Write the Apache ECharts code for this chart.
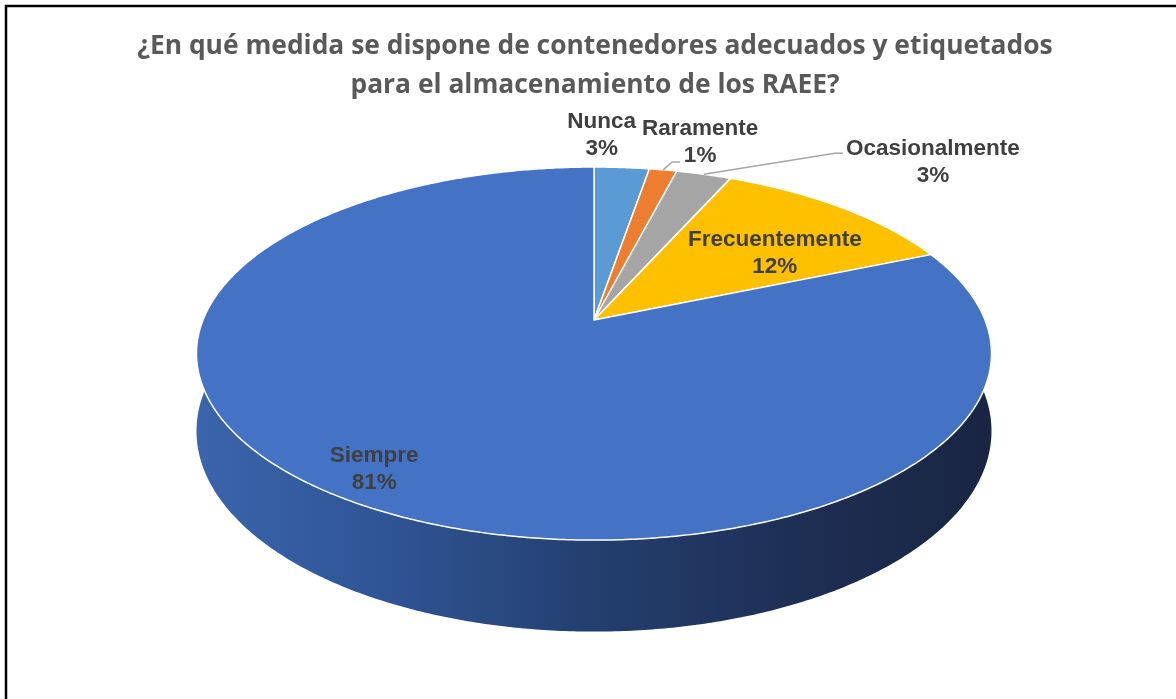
<!DOCTYPE html>
<html><head><meta charset="utf-8">
<script src="https://cdn.jsdelivr.net/npm/echarts@6/dist/echarts.min.js"></script>
<style>html,body{margin:0;padding:0;background:#fff}#c{width:1176px;height:699px}</style>
</head><body><div id="c"></div>
<script>
// ---- data ----
const categories = ['Nunca', 'Raramente', 'Ocasionalmente', 'Frecuentemente', 'Siempre'];
const counts = [2, 1, 2, 9, 61];
const sliceColors = ['#5B9BD5', '#ED7D31', '#A5A5A5', '#FFC000', '#4472C4'];
const titleText = '¿En qué medida se dispone de contenedores adecuados y etiquetados\npara el almacenamiento de los RAEE?';

// ---- layout / style (not data) ----
// label placement: radius factor on the disc, pixel offset, optional leader line (pixel offsets from anchor)
const labelLayout = [
  { r: 1.0, dx: -20, dy: -32, line: null },
  { r: 1.0, dx: 37, dy: -28, line: [[9, -8], [17, -8]] },
  { r: 1.0, dx: 229, dy: -12, line: [[131, -21], [139, -21]] },
  { r: 0.6, dx: 25, dy: 4, line: null },
  { r: 0.75, dx: -37, dy: 22, line: null }
];
const P = 0.18;          // perspective factor
const DEPTH = 0.4155;    // pie thickness in y-axis units
const SIDE_LO = 70, SIDE_HI = 290; // visible side angle range (deg)

const total = counts.reduce((a, b) => a + b, 0);
const cum = [];
counts.reduce((acc, c, i) => { cum[i] = [acc, acc + c]; return acc + c; }, 0);
const pctLabels = counts.map(c => Math.round(c / total * 100) + '%');

function proj(thetaDeg, r, depth) {
  const t = thetaDeg * Math.PI / 180;
  const u = r * Math.sin(t), v = -r * Math.cos(t);
  const s = 1 / (1 - P * v);
  return [u * s, v * s + (depth || 0) * s];
}
function angOf(val) { return val / total * 360; }

const chart = echarts.init(document.getElementById('c'));

function sideItem(params, api) {
  const i = api.value(0);
  let a0 = angOf(cum[i][0]), a1 = angOf(cum[i][1]);
  a0 = Math.max(a0, SIDE_LO); a1 = Math.min(a1, SIDE_HI);
  if (a1 <= a0) return null;
  const top = [], bot = [];
  for (let a = a0; a <= a1 + 1e-9; a += 0.5) {
    top.push(api.coord(proj(a, 1, 0)));
    bot.push(api.coord(proj(a, 1, DEPTH)));
  }
  const pts = top.concat(bot.reverse());
  return {
    type: 'polygon',
    shape: { points: pts },
    style: {
      fill: new echarts.graphic.LinearGradient(0, 0, 1, 0, [
        { offset: 0, color: '#3A64AB' },
        { offset: 0.2, color: '#31579A' },
        { offset: 0.5, color: '#233F6E' },
        { offset: 0.75, color: '#1E2F55' },
        { offset: 1, color: '#192542' }
      ]),
      stroke: null
    }
  };
}

function topItem(params, api) {
  const i = api.value(0);
  const a0 = angOf(cum[i][0]), a1 = angOf(cum[i][1]);
  const pts = [api.coord(proj(0, 0, 0))];
  const n = Math.max(2, Math.ceil((a1 - a0) / 0.5));
  for (let k = 0; k <= n; k++) pts.push(api.coord(proj(a0 + (a1 - a0) * k / n, 1, 0)));
  return {
    type: 'polygon',
    shape: { points: pts },
    style: { fill: sliceColors[i], stroke: '#ffffff', lineWidth: 1.5, lineJoin: 'round' }
  };
}

function labelItem(params, api) {
  const i = api.value(0);
  const L = labelLayout[i];
  const mid = angOf((cum[i][0] + cum[i][1]) / 2);
  const anchor = api.coord(proj(mid, L.r, 0));
  const children = [{
    type: 'text',
    x: anchor[0] + L.dx, y: anchor[1] + L.dy,
    style: {
      text: categories[i] + '\n' + pctLabels[i],
      font: 'bold 22.5px "Liberation Sans", Arial, sans-serif',
      fill: '#3F3F3F', align: 'center', verticalAlign: 'middle', lineHeight: 27
    }
  }];
  if (L.line) {
    const lp = [anchor].concat(L.line.map(o => [anchor[0] + o[0], anchor[1] + o[1]]));
    children.unshift({
      type: 'polyline', shape: { points: lp },
      style: { stroke: '#A6A6A6', lineWidth: 1.5, fill: null }
    });
  }
  return { type: 'group', children };
}

const seriesData = categories.map((c, i) => [i, counts[i]]);

chart.setOption({
  animation: false,
  backgroundColor: '#ffffff',
  grid: { left: 0, right: 0, top: 0, bottom: 0 },
  xAxis: { type: 'value', min: -594 / 391, max: (1176 - 594) / 391, show: false },
  yAxis: { type: 'value', inverse: true, min: -320 / 180.5, max: (699 - 320) / 180.5, show: false },
  graphic: [
    {
      type: 'text', x: 595, y: 27, z: 50,
      style: {
        text: titleText, align: 'center', verticalAlign: 'top',
        font: 'bold 26.4px "Open Sans", sans-serif', fill: '#595959', lineHeight: 39
      }
    },
    {
      type: 'rect', shape: { x: 6, y: 6, width: 1300, height: 900 },
      style: { fill: null, stroke: '#000', lineWidth: 2.5 }, z: 100
    }
  ],
  series: [
    { type: 'custom', name: 'side', renderItem: sideItem, data: seriesData, clip: false, z: 1, silent: true },
    { type: 'custom', name: 'top', renderItem: topItem, data: seriesData, clip: false, z: 2, silent: true },
    { type: 'custom', name: 'labels', renderItem: labelItem, data: seriesData, clip: false, z: 3, silent: true }
  ]
});
</script>
</body></html>
